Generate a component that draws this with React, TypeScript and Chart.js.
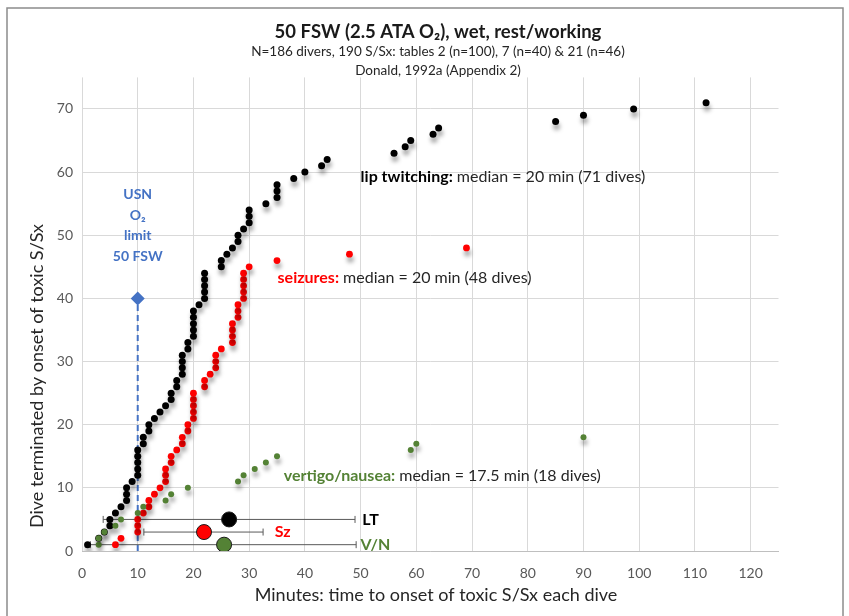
import { useEffect, useRef } from "react";
import { Chart, registerables } from "chart.js";

Chart.register(...registerables);

// Minutes to onset of toxic S/Sx, one entry per dive, sorted (cumulative dive count = position)
const lipTwitchingMinutes = [
  1, 3, 4, 5, 5, 6, 7, 8, 8, 8, 9, 10, 10, 10, 10, 10, 11, 11, 12, 12, 13, 14, 15, 16, 16,
  17, 17, 18, 18, 18, 18, 19, 19, 20, 20, 20, 20, 20, 21, 22, 22, 22, 22, 22, 25, 25, 26, 27,
  28, 28, 29, 30, 30, 30, 33, 35, 35, 35, 38, 40, 43, 44, 56, 58, 59, 63, 64, 85, 90, 99, 112,
];
const seizureMinutes = [
  6, 7, 10, 10, 10, 11, 12, 12, 13, 14, 15, 15, 15, 16, 16, 17, 18, 18, 19, 19, 20, 20, 20, 20,
  20, 22, 22, 23, 24, 24, 24, 25, 27, 27, 27, 27, 28, 28, 28, 29, 29, 29, 29, 29, 30, 35, 48, 69,
];
const vertigoMinutes = [3, 3, 4, 6, 7, 10, 11, 15, 16, 19, 28, 29, 31, 33, 35, 59, 60, 90];

// Summary markers (mean with spread bars)
const summaryLabels = ["LT", "Sz", "V/N"];
const summaryMean = [26.4, 21.9, 25.5];
const summaryLow = [3.8, 11.1, 1.5];
const summaryHigh = [49.0, 32.5, 49.2];
const summaryRow = [5, 3, 1];

// USN O2 limit marker
const usnLimitMinutes = 10;
const usnLimitDives = 40;

const xTicks = [0, 10, 20, 30, 40, 50, 60, 70, 80, 90, 100, 110, 120];
const yTicks = [0, 10, 20, 30, 40, 50, 60, 70];
const xMax = 125;
const yMax = 75;

const FONT = "Lato, 'Open Sans', sans-serif";
const BLACK = "#000000";
const RED = "#ff0000";
const GREEN = "#548235";
const BLUE = "#4472c4";

const toPoints = (arr: number[]) => arr.map((x, i) => ({ x, y: i + 1 }));

export default function App() {
  const ref = useRef<HTMLCanvasElement | null>(null);

  useEffect(() => {
    document.body.style.margin = "0";
    const canvas = ref.current;
    if (!canvas) return;

    const shadowed = new Set([1, 2, 3]);
    const shadowPlugin = {
      id: "shadow",
      beforeDatasetDraw(chart: any, args: any) {
        if (!shadowed.has(args.index)) return;
        const ctx = chart.ctx;
        ctx.save();
        ctx.shadowColor = "rgba(0,0,0,0.35)";
        ctx.shadowBlur = 4;
        ctx.shadowOffsetX = 1;
        ctx.shadowOffsetY = 5;
      },
      afterDatasetDraw(chart: any, args: any) {
        if (!shadowed.has(args.index)) return;
        chart.ctx.restore();
      },
    };

    const textPlugin = {
      id: "texts",
      afterDraw(chart: any) {
        const ctx = chart.ctx as CanvasRenderingContext2D;
        const xs = chart.scales.x;
        const ys = chart.scales.y;
        const px = (v: number) => xs.getPixelForValue(v);
        const py = (v: number) => ys.getPixelForValue(v);
        ctx.save();
        // frame
        ctx.strokeStyle = "#8c8c8c";
        ctx.lineWidth = 1.5;
        ctx.strokeRect(7, 8, 836, 620);

        ctx.textBaseline = "middle";
        ctx.textAlign = "center";
        const cx = 438;
        ctx.fillStyle = "#1a1a1a";
        ctx.font = `bold 18.5px ${FONT}`;
        ctx.fillText("50 FSW (2.5 ATA O\u2082), wet, rest/working", cx, 32);
        ctx.font = `13.5px ${FONT}`;
        ctx.fillStyle = "#262626";
        ctx.fillText("N=186 divers, 190 S/Sx: tables 2 (n=100), 7 (n=40) & 21 (n=46)", cx, 52);
        ctx.fillText("Donald, 1992a (Appendix 2)", cx, 71);

        // axis titles
        ctx.font = `18px ${FONT}`;
        ctx.fillStyle = "#262626";
        ctx.fillText("Minutes: time to onset of toxic S/Sx each dive", 436, 595);
        ctx.save();
        ctx.translate(37, 376);
        ctx.rotate(-Math.PI / 2);
        ctx.fillText("Dive terminated by onset of toxic S/Sx", 0, 0);
        ctx.restore();

        // USN limit label
        ctx.font = `bold 14px ${FONT}`;
        ctx.fillStyle = BLUE;
        const ux = px(usnLimitMinutes);
        ctx.fillText("USN", ux, py(56.4));
        ctx.fillText("O\u2082", ux, py(53.2));
        ctx.fillText("limit", ux, py(49.9));
        ctx.fillText("50 FSW", ux, py(46.7));

        // medians
        ctx.textAlign = "left";
        const mixed = (parts: [string, string, boolean][], x: number, y: number) => {
          let cur = x;
          for (const [t, color, bold] of parts) {
            ctx.font = `${bold ? "bold " : ""}16px ${FONT}`;
            ctx.fillStyle = color;
            ctx.fillText(t, cur, y);
            cur += ctx.measureText(t).width;
          }
        };
        mixed(
          [
            ["lip twitching:", BLACK, true],
            [" median = 20 min (71 dives)", "#262626", false],
          ],
          px(50),
          py(59.2)
        );
        mixed(
          [
            ["seizures:", RED, true],
            [" median = 20 min (48 dives)", "#262626", false],
          ],
          px(35.1),
          py(43.2)
        );
        mixed(
          [
            ["vertigo/nausea:", GREEN, true],
            [" median = 17.5 min (18 dives)", "#262626", false],
          ],
          px(36.2),
          py(11.9)
        );

        // summary labels
        ctx.font = `bold 16px ${FONT}`;
        const labelColors = [BLACK, RED, GREEN];
        const labelX = [50.3, 34.6, 50.0];
        summaryLabels.forEach((l, i) => {
          ctx.fillStyle = labelColors[i];
          ctx.fillText(l, px(labelX[i]), py(summaryRow[i]));
        });
        ctx.restore();
      },
    };

    const errorBarSets = summaryLabels.map((l, i) => ({
      type: "scatter" as const,
      label: l + " range",
      data: [
        { x: summaryLow[i], y: summaryRow[i] },
        { x: summaryHigh[i], y: summaryRow[i] },
      ],
      showLine: true,
      borderColor: "#595959",
      borderWidth: 1,
      pointStyle: "line" as const,
      pointRotation: 90,
      pointRadius: 3.5,
      pointBorderColor: "#595959",
      pointBorderWidth: 1,
    }));

    const chart = new Chart(canvas, {
      type: "scatter",
      data: {
        datasets: [
          {
            label: "means",
            data: summaryMean.map((m, i) => ({ x: m, y: summaryRow[i] })),
            pointRadius: 7.5,
            pointBackgroundColor: [BLACK, RED, GREEN],
            pointBorderColor: "#1a1a1a",
            pointBorderWidth: 1,
          },
          {
            label: "vertigo/nausea",
            data: toPoints(vertigoMinutes),
            pointRadius: 3,
            pointBackgroundColor: GREEN,
            pointBorderWidth: 0,
          },
          {
            label: "seizures",
            data: toPoints(seizureMinutes),
            pointRadius: 3.4,
            pointBackgroundColor: RED,
            pointBorderWidth: 0,
          },
          {
            label: "lip twitching",
            data: toPoints(lipTwitchingMinutes),
            pointRadius: 3.5,
            pointBackgroundColor: BLACK,
            pointBorderWidth: 0,
          },
          ...errorBarSets,
          {
            label: "USN limit",
            data: [
              { x: usnLimitMinutes, y: 0 },
              { x: usnLimitMinutes, y: usnLimitDives },
            ],
            showLine: true,
            borderColor: BLUE,
            borderWidth: 2,
            borderDash: [6, 4],
            pointStyle: "rectRot" as const,
            pointRadius: [0, 7],
            pointBackgroundColor: BLUE,
            pointBorderColor: BLUE,
            pointBorderWidth: 0,
          },
        ] as any,
      },
      options: {
        responsive: false,
        animation: false,
        devicePixelRatio: 1,
        layout: { padding: { left: 0, top: 77.4, right: 70.5, bottom: 0 } },
        plugins: { legend: { display: false }, tooltip: { enabled: false }, title: { display: false } },
        scales: {
          x: {
            type: "linear",
            min: 0,
            max: xMax,
            afterBuildTicks: (s: any) => {
              s.ticks = xTicks.map((v) => ({ value: v }));
            },
            afterFit: (s: any) => {
              s.height = 65;
            },
            grid: { color: "#d9d9d9", lineWidth: 1, drawTicks: false },
            border: { display: true, color: "#bfbfbf", width: 1 },
            ticks: { color: "#595959", font: { family: FONT, size: 14 }, padding: 14, maxRotation: 0 },
          },
          y: {
            type: "linear",
            min: 0,
            max: yMax,
            afterBuildTicks: (s: any) => {
              s.ticks = yTicks.map((v) => ({ value: v }));
            },
            afterFit: (s: any) => {
              s.width = 82;
            },
            grid: { color: "#d9d9d9", lineWidth: 1, drawTicks: false },
            border: { display: false },
            ticks: { color: "#595959", font: { family: FONT, size: 14 }, padding: 9 },
          },
        },
      },
      plugins: [shadowPlugin, textPlugin],
    });
    return () => chart.destroy();
  }, []);

  return (
    <div style={{ position: "relative", width: 849, height: 616, background: "#fff" }}>
      <canvas ref={ref} width={849} height={616} style={{ display: "block" }} />
    </div>
  );
}
